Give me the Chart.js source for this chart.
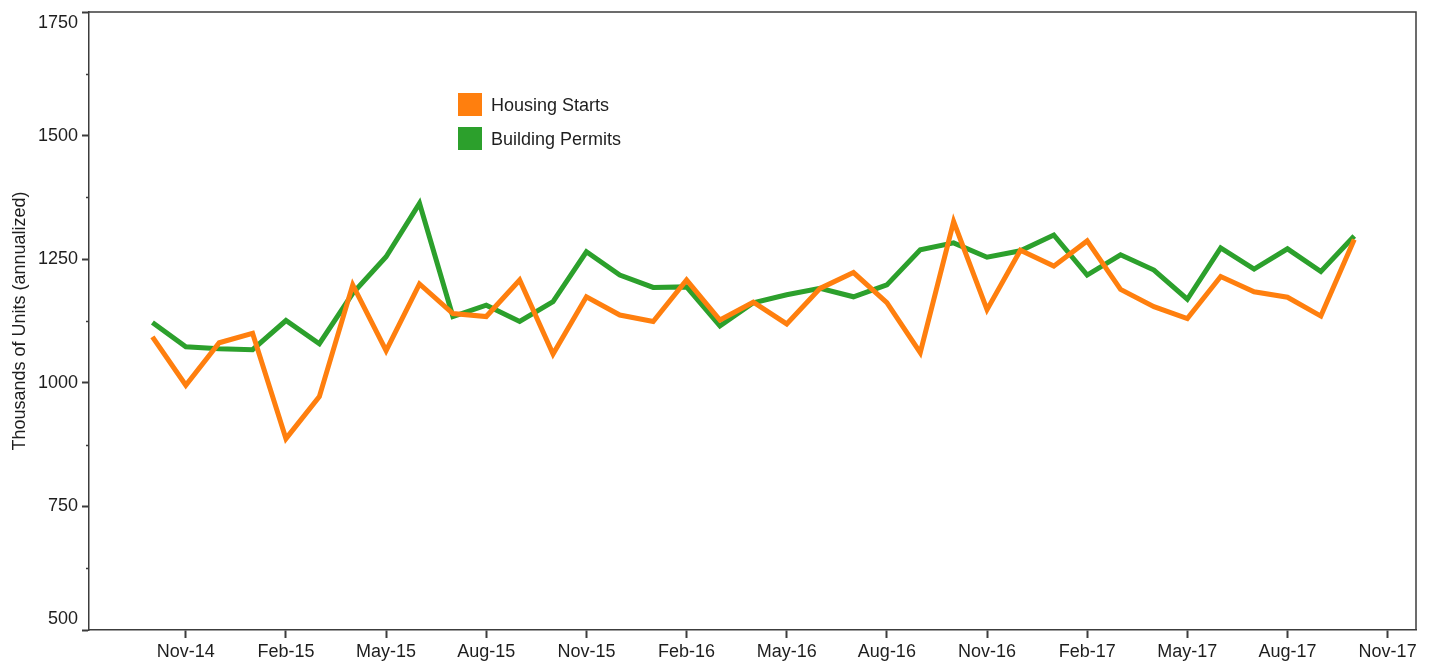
<!DOCTYPE html>
<html>
<head>
<meta charset="utf-8">
<script src="https://cdn.jsdelivr.net/npm/chart.js@4.4.1/dist/chart.umd.min.js"></script>
<style>
  html, body { margin: 0; padding: 0; background: #fff; }
  canvas { display: block; }
</style>
</head>
<body>
<canvas id="chart" width="1432" height="662"></canvas>
<script>
// monthly data, Oct-14 .. Oct-17 (thousands of units, annualized)
const months = [
  'Oct-14', 'Nov-14', 'Dec-14', 'Jan-15', 'Feb-15', 'Mar-15', 'Apr-15', 'May-15', 'Jun-15', 'Jul-15',
  'Aug-15', 'Sep-15', 'Oct-15', 'Nov-15', 'Dec-15', 'Jan-16', 'Feb-16', 'Mar-16', 'Apr-16', 'May-16',
  'Jun-16', 'Jul-16', 'Aug-16', 'Sep-16', 'Oct-16', 'Nov-16', 'Dec-16', 'Jan-17', 'Feb-17', 'Mar-17',
  'Apr-17', 'May-17', 'Jun-17', 'Jul-17', 'Aug-17', 'Sep-17', 'Oct-17'
];
const housingStarts = [
  1093, 995, 1081, 1100, 887, 972, 1198, 1065, 1200, 1140,
  1134, 1208, 1058, 1174, 1137, 1124, 1208, 1127, 1163, 1119,
  1191, 1223, 1162, 1061, 1326, 1148, 1268, 1236, 1287, 1189,
  1154, 1130, 1215, 1184, 1173, 1135, 1290
];
const buildingPermits = [
  1122, 1073, 1069, 1067, 1126, 1079, 1181, 1255, 1363, 1134,
  1157, 1124, 1164, 1265, 1218, 1193, 1194, 1115, 1162, 1178,
  1191, 1174, 1198, 1269, 1283, 1254, 1267, 1299, 1218, 1259,
  1228, 1169, 1273, 1230, 1271, 1225, 1297
];
const xTickLabels = ['Nov-14', 'Feb-15', 'May-15', 'Aug-15', 'Nov-15', 'Feb-16', 'May-16',
  'Aug-16', 'Nov-16', 'Feb-17', 'May-17', 'Aug-17', 'Nov-17'];
const yMinorTicks = [625, 875, 1125, 1375, 1625];

const AXIS = '#3c3c3c';
const TEXT = '#1e1e1e';
const FONT = "'Liberation Sans', Arial, sans-serif";

Chart.defaults.font.family = FONT;
Chart.defaults.font.size = 18;
Chart.defaults.color = TEXT;

// x is month index from Oct-14; ticks every 3 months starting Nov-14
const xTickPos = xTickLabels.map((l, i) => 1 + i * 3);

const extrasPlugin = {
  id: 'extras',
  afterDraw(chart) {
    const { ctx, chartArea: a, scales: { y } } = chart;
    ctx.save();
    // top + right frame
    ctx.strokeStyle = AXIS;
    ctx.lineWidth = 1.5;
    ctx.beginPath();
    ctx.moveTo(a.left, a.top);
    ctx.lineTo(a.right, a.top);
    ctx.lineTo(a.right, a.bottom);
    ctx.stroke();
    // minor y ticks
    ctx.beginPath();
    yMinorTicks.forEach(v => {
      const py = Math.round(y.getPixelForValue(v)) + 0.5;
      ctx.moveTo(a.left - 3, py);
      ctx.lineTo(a.left, py);
    });
    ctx.stroke();
    // legend
    ctx.font = '18px ' + FONT;
    ctx.textBaseline = 'alphabetic';
    chart.data.datasets.forEach((ds, i) => {
      ctx.fillStyle = ds.borderColor;
      ctx.fillRect(458, 93 + i * 34, 24, 23);
      ctx.fillStyle = TEXT;
      ctx.fillText(ds.label, 491, 111 + i * 34);
    });
    ctx.restore();
  }
};

new Chart(document.getElementById('chart'), {
  type: 'line',
  data: {
    datasets: [
      {
        label: 'Housing Starts',
        data: housingStarts.map((v, i) => ({ x: i, y: v })),
        borderColor: '#ff7f0e',
        borderWidth: 5,
        pointRadius: 0,
        tension: 0
      },
      {
        label: 'Building Permits',
        data: buildingPermits.map((v, i) => ({ x: i, y: v })),
        borderColor: '#2ca02c',
        borderWidth: 5,
        pointRadius: 0,
        tension: 0
      }
    ]
  },
  options: {
    responsive: false,
    animation: false,
    layout: { padding: { top: 12, right: 16, left: 0, bottom: 0 } },
    plugins: { legend: { display: false }, tooltip: { enabled: false } },
    scales: {
      x: {
        type: 'linear',
        min: -1.9,
        max: 37.85,
        afterBuildTicks: s => { s.ticks = xTickPos.map(v => ({ value: v })); },
        afterFit: s => { s.height = 32; s.paddingLeft = 0; s.paddingRight = 0; },
        ticks: {
          autoSkip: false,
          maxRotation: 0,
          padding: 3,
          color: TEXT,
          callback: (v) => xTickLabels[xTickPos.indexOf(v)] || ''
        },
        grid: { drawOnChartArea: false, tickLength: 8, tickWidth: 2, tickColor: AXIS },
        border: { color: AXIS, width: 1.5 }
      },
      y: {
        min: 500,
        max: 1750,
        afterFit: s => { s.width = 89; s.paddingTop = 0; s.paddingBottom = 0; },
        ticks: {
          stepSize: 250,
          padding: 4,
          color: TEXT,
          callback: v => v === 1750 ? ['', '1750'] : (v === 500 ? ['500', ''] : String(v))
        },
        grid: { drawOnChartArea: false, tickLength: 7, tickWidth: 2, tickColor: AXIS },
        border: { color: AXIS, width: 1.5 },
        title: {
          display: true,
          text: 'Thousands of Units (annualized)',
          color: TEXT,
          font: { size: 18 },
          padding: { top: 9, bottom: 0 }
        }
      }
    }
  },
  plugins: [extrasPlugin]
});
</script>
</body>
</html>
